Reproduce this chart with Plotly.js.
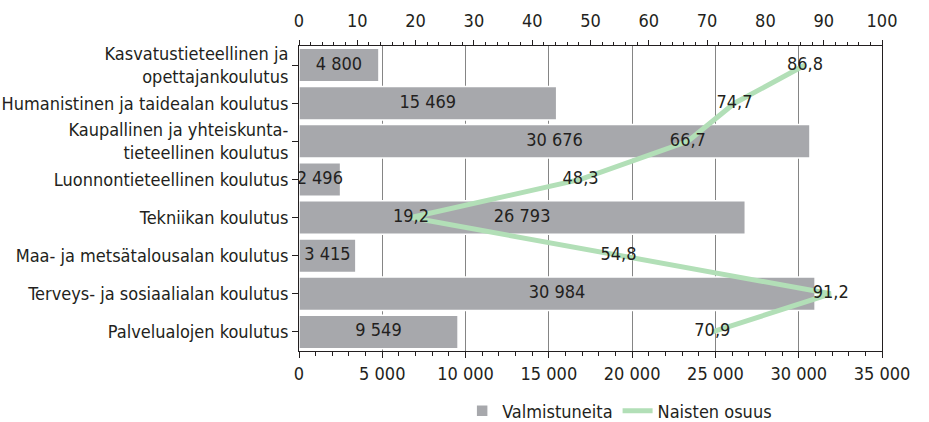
<!DOCTYPE html>
<html>
<head>
<meta charset="utf-8">
<script src="https://cdn.plot.ly/plotly-3.0.1.min.js"></script>
<style>html,body{margin:0;padding:0;background:#fff;}#chart{width:929px;height:422px;}</style>
</head>
<body>
<div id="chart"></div>
<script>
const categories = [
  'Kasvatustieteellinen ja<br>opettajankoulutus',
  'Humanistinen ja taidealan koulutus',
  'Kaupallinen ja yhteiskunta-<br>tieteellinen koulutus',
  'Luonnontieteellinen koulutus',
  'Tekniikan koulutus',
  'Maa- ja metsätalousalan koulutus',
  'Terveys- ja sosiaalialan koulutus',
  'Palvelualojen koulutus'
];
const graduates = [4800, 15469, 30676, 2496, 26793, 3415, 30984, 9549];
const womenShare = [86.8, 74.7, 66.7, 48.3, 19.2, 54.8, 91.2, 70.9];

const FONT = '"DejaVu Sans Condensed", "Liberation Sans Narrow", sans-serif';
const TXT = '#231f20';
const fmtInt = v => String(v).replace(/\B(?=(\d{3})+(?!\d))/g, ' ');
const fmtDec = v => v.toFixed(1).replace('.', ',');

const traces = [
  {
    type: 'bar', orientation: 'h', name: 'Valmistuneita',
    x: graduates, y: categories, xaxis: 'x', yaxis: 'y',
    marker: {color: '#a7a8ac', line: {color: '#ffffff', width: 1.5}},
    hoverinfo: 'skip'
  },
  {
    type: 'scatter', mode: 'text', showlegend: false,
    x: graduates.map(v => v / 2), y: categories, xaxis: 'x', yaxis: 'y',
    text: graduates.map(fmtInt), textposition: 'middle center',
    textfont: {family: FONT, size: 18, color: TXT},
    hoverinfo: 'skip'
  },
  {
    type: 'scatter', mode: 'lines+text', name: 'Naisten osuus',
    x: womenShare, y: categories, xaxis: 'x2', yaxis: 'y',
    text: womenShare.map(fmtDec), textposition: 'middle center',
    textfont: {family: FONT, size: 18, color: TXT},
    line: {color: '#b2dfb7', width: 5},
    hoverinfo: 'skip'
  }
];

const layout = {
  width: 929, height: 422,
  margin: {l: 299, r: 47, t: 46, b: 71, autoexpand: false},
  paper_bgcolor: '#ffffff', plot_bgcolor: '#ffffff',
  font: {family: FONT, size: 18, color: TXT},
  separators: ', ',
  bargap: 0.12,
  showlegend: true,
  legend: {orientation: 'h', x: 0.55, xanchor: 'center', y: -0.197, yanchor: 'middle',
           font: {family: FONT, size: 18, color: TXT}, itemwidth: 30, tracegroupgap: 0},
  xaxis: {
    range: [0, 35000], dtick: 5000, tick0: 0, tickformat: ',d',
    showgrid: true, gridcolor: '#858585', gridwidth: 1, layer: 'below traces',
    showline: true, linecolor: TXT, linewidth: 1, mirror: false,
    ticks: 'outside', ticklen: 6, tickcolor: TXT, tickwidth: 1,
    minor: {dtick: 1000, ticks: 'outside', ticklen: 4, tickcolor: TXT, showgrid: false},
    tickfont: {family: FONT, size: 18, color: TXT},
    zeroline: false, fixedrange: true
  },
  xaxis2: {
    overlaying: 'x', side: 'top', anchor: 'y', range: [0, 100], dtick: 10, tick0: 0,
    showgrid: false, showline: true, linecolor: TXT, linewidth: 1,
    ticks: 'outside', ticklen: 5, tickcolor: TXT, tickwidth: 1, ticklabelstandoff: 6,
    minor: {dtick: 2, ticks: 'outside', ticklen: 3, tickcolor: TXT, showgrid: false},
    tickfont: {family: FONT, size: 18, color: TXT},
    zeroline: false, fixedrange: true
  },
  yaxis: {
    autorange: 'reversed', showgrid: false, showline: true, linecolor: TXT, linewidth: 1,
    mirror: true, ticks: 'outside', ticklen: 6, tickcolor: TXT,
    tickfont: {family: FONT, size: 18, color: TXT},
    zeroline: false, fixedrange: true
  }
};

Plotly.newPlot('chart', traces, layout, {displayModeBar: false, staticPlot: true});
</script>
</body>
</html>
